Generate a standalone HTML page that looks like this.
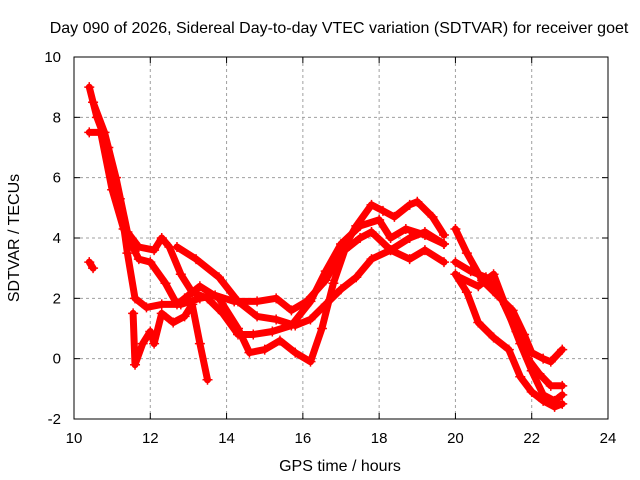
<!DOCTYPE html>
<html><head><meta charset="utf-8"><style>
body{margin:0;background:#fff}
svg{display:block;font-family:"Liberation Sans",sans-serif}
</style></head><body>
<svg id="chart" width="640" height="480">
<rect width="640" height="480" fill="#fff"/>
<text x="339" y="33" font-size="16" text-anchor="middle">Day 090 of 2026, Sidereal Day-to-day VTEC variation (SDTVAR) for receiver goet</text>
<text x="340" y="471" font-size="16" text-anchor="middle">GPS time / hours</text>
<text transform="translate(19,238) rotate(-90)" font-size="16" text-anchor="middle">SDTVAR / TECUs</text>
<g id="grid"></g><g id="marks"></g>
<rect x="74" y="57" width="534" height="362" fill="none" stroke="#000"/>
<g id="ticks"></g>
</svg>
<script>
const xTicks=[10,12,14,16,18,20,22,24];
const yTicks=[-2,0,2,4,6,8,10];
const s1x=[10.4,10.6,10.9,11.2,11.4,11.6,11.9,12.3,12.8,13.3,13.7,14.2,14.8,15.3,15.7,16.1,16.6,17.0,17.4,17.8,18.1,18.4,18.8,19.0,19.4,19.7];
const s1y=[9,8,7,5.3,3.5,2.0,1.7,1.8,1.8,2.0,2.1,1.9,1.9,2.0,1.6,1.9,2.6,3.5,4.4,5.1,4.9,4.7,5.1,5.2,4.7,4.1];
const s2x=[10.5,10.8,11.1,11.4,11.7,12.1,12.3,12.5,12.8,13.1,13.5,13.9,14.3,14.7,15.2,15.7,16.2,16.6,17.0,17.5,18.0,18.3,18.7,19.2,19.7];
const s2y=[8.5,7.5,6,4.2,3.7,3.6,4.0,3.7,2.8,2.2,2.0,1.5,0.8,0.8,0.9,1.1,1.9,2.9,3.8,4.4,4.6,4.0,4.3,4.1,3.8];
const s3x=[10.4,10.7,11.0,11.3,11.7,12.0,12.4,12.7,12.9,13.3,13.8,14.3,14.6,15.0,15.4,15.8,16.2,16.5,16.8,17.1,17.5,17.8,18.3,18.8,19.2,19.7];
const s3y=[7.5,7.5,5.6,4.3,3.3,3.2,2.5,1.8,2.0,2.4,2.0,1.0,0.2,0.3,0.6,0.2,-0.1,1.0,2.5,3.6,4.0,4.2,3.6,3.3,3.6,3.2];
const s4x=[12.7,13.2,13.8,14.3,14.8,15.3,15.8,16.2,16.6,17.0,17.4,17.8,18.3,18.8,19.2,19.7];
const s4y=[3.7,3.3,2.7,1.9,1.4,1.3,1.1,1.3,1.8,2.3,2.7,3.3,3.6,4.0,4.2,3.8];
const s5x=[11.55,11.6,11.8,12.0,12.1,12.3,12.6,12.9,13.1,13.3,13.5];
const s5y=[1.5,-0.2,0.5,0.9,0.5,1.5,1.2,1.4,1.8,0.5,-0.7];
const s6x=[10.4,10.5];
const s6y=[3.2,3.0];
const e1x=[20.0,20.3,20.7,21.1,21.5,21.8,22.0,22.3,22.5,22.8];
const e1y=[4.3,3.5,2.6,2.1,1.6,0.8,0.2,0.0,-0.1,0.3];
const e2x=[20.0,20.4,20.8,21.2,21.6,21.9,22.2,22.5,22.8];
const e2y=[3.2,2.9,2.7,2.0,0.9,0.0,-0.5,-0.9,-0.9];
const e3x=[20.0,20.3,20.6,21.0,21.4,21.7,22.0,22.3,22.6,22.8];
const e3y=[2.8,2.2,1.2,0.7,0.3,-0.6,-1.1,-1.4,-1.6,-1.5];
const e4x=[20.1,20.6,21.0,21.3,21.7,22.0,22.3,22.6,22.8];
const e4y=[2.7,2.4,2.8,1.8,0.5,-0.4,-1.2,-1.4,-1.2];
const seriesX=[s1x,s2x,s3x,s4x,s5x,s6x,e1x,e2x,e3x,e4x];
const seriesY=[s1y,s2y,s3y,s4y,s5y,s6y,e1y,e2y,e3y,e4y];
const X=v=>74+(v-10)*534/14, Y=v=>419-(v+2)*362/12;
const NS="http://www.w3.org/2000/svg";
const grid=document.getElementById('grid'),ticks=document.getElementById('ticks'),marks=document.getElementById('marks');
function mk(tag,p,parent){const e=document.createElementNS(NS,tag);for(const k in p)e.setAttribute(k,p[k]);parent.appendChild(e);return e;}
xTicks.forEach(t=>{const x=X(t);
 if(t>10&&t<24){const g=mk('line',{x1:x,x2:x,y1:57,y2:419,stroke:'#a0a0a0','stroke-dasharray':'3,3'},grid);
 
 }
 mk('line',{x1:x,x2:x,y1:419,y2:413,stroke:'#000'},ticks);mk('line',{x1:x,x2:x,y1:57,y2:63,stroke:'#000'},ticks);
 const l=mk('text',{x:x,y:443,'font-size':15,'text-anchor':'middle'},ticks);l.textContent=t;
 
 });
yTicks.forEach(t=>{const y=Y(t);
 if(t>-2&&t<10){const g=mk('line',{x1:74,x2:608,y1:y,y2:y,stroke:'#a0a0a0','stroke-dasharray':'3,3'},grid);
 
 }
 mk('line',{x1:74,x2:80,y1:y,y2:y,stroke:'#000'},ticks);mk('line',{x1:608,x2:602,y1:y,y2:y,stroke:'#000'},ticks);
 const l=mk('text',{x:61,y:y+5,'font-size':15,'text-anchor':'end'},ticks);l.textContent=t;
 
 });
seriesX.forEach((xs,i)=>{const ys=seriesY[i];
 const d=xs.map((v,j)=>(j?'L':'M')+X(v).toFixed(1)+','+Y(ys[j]).toFixed(1)).join('');
 const p=mk('path',{d:d,fill:'none',stroke:'#ff0000','stroke-width':7,'stroke-linejoin':'round','stroke-linecap':'round'},marks);
 
 
 xs.forEach((v,j)=>{const cx=X(v),cy=Y(ys[j]);
  const m=mk('path',{d:`M${cx-5},${cy}h10M${cx},${cy-5}v10`,stroke:'#ff0000','stroke-width':1.5},marks);
  
  });
});
</script>
</body></html>
